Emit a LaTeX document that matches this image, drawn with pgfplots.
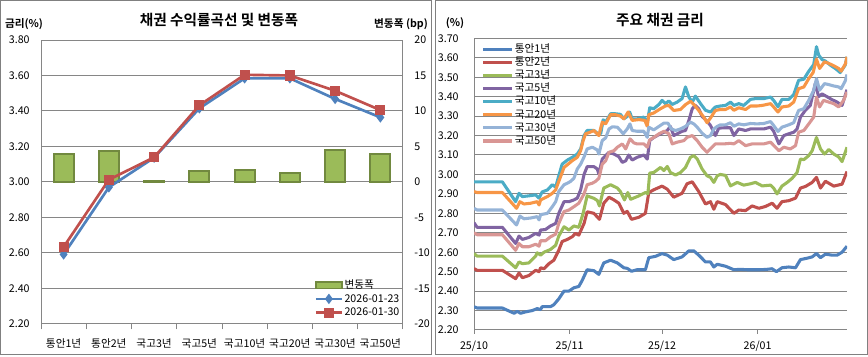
\documentclass[border=0pt]{standalone}
\usepackage{fontspec}
\setmainfont{Noto Sans CJK KR}[BoldFont={Noto Sans CJK KR Bold}]
\usepackage{pgfplots}
\pgfplotsset{compat=1.18}
\definecolor{c1}{HTML}{4F81BD}
\definecolor{c2}{HTML}{C0504D}
\definecolor{c3}{HTML}{9BBB59}
\definecolor{c4}{HTML}{8064A2}
\definecolor{c5}{HTML}{4BACC6}
\definecolor{c6}{HTML}{F79646}
\definecolor{c7}{HTML}{95B3D7}
\definecolor{c8}{HTML}{D99694}
\definecolor{barfill}{HTML}{9BBB59}
\definecolor{baredge}{HTML}{71893F}
\definecolor{gridc}{HTML}{868686}
\begin{document}
\begin{tikzpicture}
\begin{scope}[x=0.75pt,y=0.75pt]
\path[use as bounding box] (0,0) rectangle (868,355);
\draw[gray, line width=0.75pt] (0.5,0.5) rectangle (431.5,354.5);
\draw[gray, line width=0.75pt] (435.5,0.5) rectangle (867.5,354.5);
\node[font=\bfseries\fontsize{11}{13}\selectfont] at (219,335) {채권 수익률곡선 및 변동폭};
\node[font=\bfseries\fontsize{8}{10}\selectfont] at (24,331) {금리(\%)};
\node[font=\bfseries\fontsize{8}{10}\selectfont] at (401,331) {변동폭 (bp)};
\node[font=\bfseries\fontsize{11}{13}\selectfont] at (660,335) {주요 채권 금리};
\node[font=\bfseries\fontsize{8}{10}\selectfont] at (455,332) {(\%)};
\end{scope}

% ---------- left chart: bars (right axis) ----------
\begin{axis}[
  at={(30.75pt,23.25pt)}, anchor=south west,
  scale only axis, width=271.5pt, height=213pt,
  xmin=-0.5, xmax=7.5, ymin=-20, ymax=20,
  ytick={-20,-15,-10,-5,0,5,10,15,20},
  axis y line*=right, axis x line*=bottom,
  axis line style={gridc, line width=0.75pt},
  ymajorgrids, grid style={gridc, line width=0.75pt},
  xtick={-0.5,0.5,1.5,2.5,3.5,4.5,5.5,6.5,7.5}, xticklabels={},
  extra x ticks={0,1,2,3,4,5,6,7},
  extra x tick labels={통안1년,통안2년,국고3년,국고5년,국고10년,국고20년,국고30년,국고50년},
  extra x tick style={tick style={draw=none}, grid=none},
  tick align=outside, major tick length=4pt,
  ytick style={draw=none},
  xtick style={gridc, line width=0.75pt},
  ticklabel style={font=\fontsize{8}{9.6}\selectfont},
  yticklabel style={anchor=west, xshift=1pt},
  xticklabel style={yshift=-3.5pt},
  /pgf/number format/assume math mode=true,
  ybar, bar width=15pt,
]
\addplot[fill=barfill, draw=baredge, line width=1.5pt] coordinates {(0,3.9) (1,4.3) (2,0.2) (3,1.5) (4,1.7) (5,1.2) (6,4.5) (7,3.9)};
\end{axis}

% ---------- left chart: lines (left axis) ----------
\begin{axis}[
  at={(30.75pt,23.25pt)}, anchor=south west,
  scale only axis, width=271.5pt, height=213pt,
  xmin=-0.5, xmax=7.5, ymin=2.2, ymax=3.8,
  ytick={2.2,2.4,2.6,2.8,3.0,3.2,3.4,3.6,3.8},
  axis y line*=left, axis x line=none,
  axis line style={gridc, line width=0.75pt},
  ytick style={draw=none},
  ticklabel style={font=\fontsize{8}{9.6}\selectfont},
  yticklabel style={xshift=-5pt, /pgf/number format/fixed, /pgf/number format/fixed zerofill, /pgf/number format/precision=2},
  /pgf/number format/assume math mode=true,
  legend image code/.code={\draw[mark repeat=2,mark phase=2,#1] plot coordinates {(0pt,0pt) (9.75pt,0pt) (19.5pt,0pt)};},
  legend cell align=left,
  legend style={at={(0.755,0.015)}, anchor=south west, draw=none, fill=none,
    font=\fontsize{8}{9.6}\selectfont, inner sep=0pt, row sep=0pt,
    nodes={inner sep=1pt, text height=6.5pt, text depth=1.8pt}},
]
\addlegendimage{legend image code/.code={\draw[fill=barfill,draw=baredge,line width=1.2pt] (0pt,-2.5pt) rectangle (19.5pt,2.5pt);}}
\addlegendentry{변동폭}
\addplot[c1, line width=2pt, mark=diamond*, mark size=2.3pt] coordinates {(0,2.592) (1,2.970) (2,3.137) (3,3.415) (4,3.584) (5,3.584) (6,3.468) (7,3.364)};
\addlegendentry{2026-01-23}
\addplot[c2, line width=2pt, mark=square*, mark size=2.8pt] coordinates {(0,2.634) (1,3.013) (2,3.139) (3,3.432) (4,3.604) (5,3.600) (6,3.514) (7,3.405)};
\addlegendentry{2026-01-30}
\end{axis}

% ---------- right chart ----------
\begin{axis}[
  at={(355.5pt,18.75pt)}, anchor=south west,
  scale only axis, width=279.75pt, height=218.75pt,
  xmin=0, xmax=121, ymin=2.2, ymax=3.7,
  ytick={2.2,2.3,2.4,2.5,2.6,2.7,2.8,2.9,3.0,3.1,3.2,3.3,3.4,3.5,3.6,3.7},
  xtick={0,31,61,92}, xticklabels={25/10,25/11,25/12,26/01},
  axis y line*=left, axis x line*=bottom,
  axis line style={gridc, line width=0.75pt},
  ymajorgrids, grid style={gridc, line width=0.75pt},
  tick align=outside, major tick length=3pt,
  ytick style={draw=none}, xtick style={gridc, line width=0.75pt},
  ticklabel style={font=\fontsize{8}{9.6}\selectfont},
  yticklabel style={xshift=-5pt, /pgf/number format/fixed, /pgf/number format/fixed zerofill, /pgf/number format/precision=2},
  xticklabel style={yshift=-2pt},
  /pgf/number format/assume math mode=true,
  legend image code/.code={\draw[#1] (0pt,0pt) -- (21.75pt,0pt);},
  legend cell align=left,
  legend style={at={(0.02,0.985)}, anchor=north west, draw=none, fill=none,
    font=\fontsize{8}{9.6}\selectfont, inner sep=0pt, row sep=0pt,
    nodes={inner sep=0.8pt, text height=6.5pt, text depth=1.7pt}},
  every axis plot/.append style={line width=2.3pt, line join=round},
]
\addplot[c1] coordinates {(0,2.320) (1.0,2.313) (9.2,2.313) (13.0,2.286) (14.0,2.296) (15.1,2.286) (16.7,2.293) (18.9,2.300) (20.5,2.310) (21.6,2.305) (22.1,2.320) (24.8,2.320) (25.9,2.330) (27.5,2.360) (29.2,2.400) (30.8,2.400) (32.4,2.417) (34.0,2.424) (35.1,2.455) (36.7,2.510) (38.9,2.505) (40.5,2.486) (42.1,2.545) (44.3,2.559) (46.5,2.545) (48.6,2.520) (49.7,2.517) (51.1,2.502) (52.9,2.510) (55.6,2.510) (56.7,2.572) (58.9,2.579) (61.0,2.593) (62.7,2.585) (64.8,2.562) (67.5,2.576) (69.7,2.607) (71.3,2.607) (72.9,2.585) (75.1,2.550) (76.7,2.550) (77.8,2.524) (78.9,2.538) (81.6,2.528) (84.3,2.510) (86.4,2.512) (88.6,2.510) (90.8,2.510) (92.9,2.510) (95.1,2.512) (96.7,2.515) (98.1,2.500) (99.9,2.520) (102.1,2.524) (104.3,2.520) (105.9,2.562) (108.0,2.569) (109.7,2.576) (111.1,2.593) (112.4,2.572) (114.0,2.590) (116.1,2.585) (117.8,2.585) (119.4,2.600) (121.0,2.631)};
\addlegendentry{통안1년}
\addplot[c2] coordinates {(0,2.516) (1.0,2.507) (9.2,2.507) (13.5,2.464) (14.6,2.493) (15.7,2.469) (17.8,2.480) (20.0,2.507) (21.1,2.500) (21.6,2.520) (22.7,2.515) (24.3,2.541) (25.9,2.559) (27.5,2.610) (28.6,2.655) (30.3,2.666) (31.9,2.680) (32.9,2.697) (34.0,2.688) (35.7,2.748) (36.7,2.808) (38.9,2.800) (40.7,2.769) (42.1,2.852) (43.8,2.883) (45.4,2.869) (47.0,2.852) (48.6,2.800) (49.7,2.810) (51.1,2.769) (53.5,2.780) (55.6,2.800) (56.7,2.907) (58.3,2.921) (61.0,2.940) (62.7,2.924) (64.8,2.883) (67.5,2.903) (69.1,2.952) (70.8,2.962) (72.9,2.912) (75.1,2.848) (76.7,2.860) (77.8,2.821) (78.9,2.860) (81.6,2.845) (84.3,2.800) (85.9,2.817) (88.1,2.814) (90.2,2.838) (92.4,2.826) (94.5,2.835) (96.7,2.852) (98.3,2.826) (99.9,2.860) (102.1,2.865) (104.3,2.878) (105.9,2.930) (107.5,2.938) (109.7,2.959) (111.1,2.985) (112.4,2.930) (114.0,2.965) (116.7,2.940) (119.4,2.950) (121.0,3.015)};
\addlegendentry{통안2년}
\addplot[c3] coordinates {(0,2.593) (1.0,2.580) (9.2,2.580) (13.5,2.520) (14.6,2.550) (15.7,2.541) (17.8,2.545) (20.0,2.580) (20.5,2.597) (21.6,2.585) (22.7,2.600) (24.8,2.614) (26.5,2.636) (27.5,2.683) (29.2,2.731) (30.8,2.714) (32.4,2.735) (34.0,2.728) (35.4,2.800) (36.7,2.890) (38.9,2.877) (40.0,2.866) (40.7,2.838) (42.1,2.930) (44.3,2.947) (46.5,2.930) (47.5,2.912) (48.8,2.869) (49.9,2.907) (50.8,2.872) (53.5,2.890) (55.6,2.907) (56.4,2.900) (57.0,3.007) (58.3,3.010) (60.5,3.036) (61.6,3.020) (62.7,3.041) (63.7,3.010) (65.4,2.997) (67.0,3.010) (68.6,3.036) (70.2,3.088) (71.3,3.097) (72.4,3.080) (74.0,3.028) (75.6,2.993) (76.7,2.985) (77.8,2.959) (78.9,2.993) (79.9,3.000) (81.6,2.995) (83.2,2.941) (85.4,2.959) (87.5,2.945) (89.7,2.952) (91.3,2.959) (93.5,2.941) (96.2,2.945) (97.2,2.930) (98.3,2.900) (99.9,2.940) (101.6,2.959) (103.2,2.980) (104.8,3.010) (105.9,3.079) (107.0,3.076) (108.6,3.097) (109.7,3.122) (111.1,3.190) (112.4,3.131) (113.7,3.105) (115.1,3.128) (116.7,3.105) (118.3,3.090) (119.4,3.066) (121.0,3.140)};
\addlegendentry{국고3년}
\addplot[c4] coordinates {(0,2.752) (1.0,2.728) (9.2,2.728) (13.5,2.645) (14.6,2.683) (15.7,2.666) (17.8,2.676) (20.0,2.697) (21.1,2.688) (21.6,2.714) (23.2,2.717) (24.8,2.735) (26.5,2.748) (27.5,2.800) (29.2,2.860) (30.8,2.860) (32.4,2.869) (33.5,2.878) (34.6,2.921) (35.7,3.000) (36.7,3.040) (38.9,3.040) (40.0,3.028) (40.5,3.002) (41.6,3.079) (43.8,3.114) (45.4,3.105) (47.0,3.091) (48.1,3.062) (49.2,3.070) (50.2,3.100) (51.3,3.074) (52.9,3.088) (55.1,3.100) (56.2,3.079) (57.0,3.174) (58.3,3.190) (60.0,3.205) (61.6,3.217) (62.7,3.226) (63.7,3.247) (64.8,3.200) (65.9,3.209) (67.5,3.222) (68.6,3.226) (69.7,3.278) (70.8,3.338) (71.8,3.355) (72.9,3.338) (74.0,3.298) (75.6,3.274) (76.7,3.252) (77.8,3.217) (78.3,3.200) (79.4,3.238) (81.0,3.240) (83.2,3.240) (84.3,3.200) (85.9,3.234) (88.1,3.226) (89.7,3.234) (94.0,3.234) (96.2,3.243) (97.2,3.222) (98.9,3.157) (100.5,3.200) (102.1,3.209) (103.7,3.217) (104.8,3.234) (105.9,3.295) (107.5,3.330) (109.1,3.355) (110.7,3.467) (111.8,3.400) (112.9,3.414) (114.5,3.400) (116.1,3.385) (117.8,3.372) (119.4,3.355) (121.0,3.436)};
\addlegendentry{국고5년}
\addplot[c5] coordinates {(0,2.962) (1.0,2.962) (9.2,2.962) (13.5,2.860) (14.6,2.903) (15.7,2.886) (17.8,2.890) (20.0,2.895) (21.1,2.878) (22.1,2.910) (23.8,2.920) (25.4,2.947) (26.5,2.935) (27.5,2.993) (28.6,3.053) (30.3,3.074) (31.9,3.088) (33.5,3.105) (34.6,3.131) (35.7,3.200) (36.7,3.226) (38.9,3.226) (40.0,3.212) (41.1,3.209) (41.9,3.281) (42.7,3.269) (44.3,3.312) (45.9,3.312) (47.5,3.309) (48.6,3.286) (49.7,3.298) (50.5,3.321) (51.3,3.286) (52.9,3.286) (55.1,3.295) (56.2,3.264) (57.0,3.343) (58.3,3.338) (60.0,3.360) (61.0,3.381) (62.1,3.364) (63.2,3.378) (64.3,3.360) (65.9,3.372) (67.5,3.390) (68.6,3.450) (69.7,3.398) (70.8,3.372) (71.8,3.403) (73.5,3.364) (75.1,3.330) (76.7,3.321) (78.3,3.347) (79.9,3.352) (81.6,3.355) (83.2,3.372) (84.3,3.355) (85.9,3.364) (87.5,3.355) (89.7,3.386) (91.3,3.390) (94.0,3.390) (96.2,3.398) (97.2,3.381) (98.6,3.348) (99.9,3.386) (102.1,3.386) (103.7,3.410) (105.3,3.484) (107.0,3.490) (108.6,3.531) (110.2,3.565) (111.1,3.657) (111.8,3.614) (112.9,3.591) (114.0,3.583) (115.6,3.562) (117.2,3.545) (118.8,3.524) (120.4,3.562) (121.0,3.605)};
\addlegendentry{국고10년}
\addplot[c6] coordinates {(0,2.912) (1.0,2.907) (9.2,2.907) (13.8,2.826) (14.9,2.860) (16.2,2.848) (18.4,2.852) (20.5,2.860) (21.1,2.843) (21.6,2.869) (23.8,2.886) (25.4,2.903) (26.5,2.921) (27.5,2.964) (28.6,3.010) (29.2,3.036) (30.3,3.050) (31.9,3.071) (33.5,3.088) (34.6,3.122) (35.4,3.174) (36.2,3.209) (37.3,3.215) (38.9,3.226) (40.5,3.200) (41.6,3.269) (42.7,3.260) (44.3,3.307) (45.9,3.307) (47.5,3.300) (48.6,3.286) (50.0,3.321) (51.3,3.278) (53.5,3.282) (55.4,3.278) (56.2,3.248) (56.7,3.307) (58.3,3.316) (60.5,3.338) (62.1,3.352) (63.2,3.355) (64.8,3.329) (67.0,3.334) (68.6,3.359) (70.2,3.376) (71.3,3.360) (72.9,3.329) (74.5,3.295) (75.6,3.266) (76.7,3.290) (78.3,3.329) (79.9,3.334) (81.6,3.334) (83.2,3.347) (84.3,3.330) (85.9,3.343) (88.1,3.334) (89.7,3.352) (91.8,3.352) (93.5,3.355) (96.2,3.364) (97.2,3.347) (98.6,3.321) (99.9,3.347) (102.1,3.352) (103.7,3.372) (105.3,3.441) (107.0,3.450) (108.6,3.493) (110.0,3.524) (111.1,3.593) (112.1,3.545) (113.7,3.579) (115.1,3.571) (116.7,3.559) (118.3,3.545) (119.1,3.531) (120.5,3.569) (121.0,3.605)};
\addlegendentry{국고20년}
\addplot[c7] coordinates {(0,2.826) (1.0,2.817) (9.2,2.817) (13.8,2.740) (14.9,2.786) (16.2,2.772) (18.4,2.776) (20.5,2.783) (21.1,2.766) (21.6,2.793) (23.8,2.800) (25.4,2.834) (26.5,2.860) (27.5,2.912) (29.2,2.947) (30.3,2.955) (31.3,2.964) (32.4,2.980) (33.5,3.028) (34.6,3.053) (35.7,3.090) (36.7,3.131) (38.4,3.140) (40.0,3.126) (40.5,3.105) (41.6,3.174) (42.7,3.188) (43.8,3.234) (44.9,3.245) (46.5,3.243) (47.5,3.226) (48.4,3.209) (49.7,3.234) (50.6,3.260) (51.3,3.226) (52.9,3.222) (55.1,3.222) (56.2,3.191) (56.7,3.243) (58.3,3.229) (60.0,3.247) (61.6,3.264) (62.9,3.264) (64.0,3.234) (65.4,3.226) (67.0,3.234) (68.6,3.247) (70.2,3.269) (71.3,3.260) (72.4,3.243) (74.0,3.212) (75.6,3.191) (76.7,3.200) (77.8,3.234) (78.9,3.247) (79.9,3.255) (81.6,3.255) (83.2,3.266) (84.3,3.248) (85.9,3.260) (87.5,3.255) (89.7,3.262) (91.8,3.260) (94.0,3.262) (96.2,3.272) (97.2,3.252) (98.6,3.221) (99.9,3.243) (102.1,3.255) (103.7,3.266) (105.3,3.329) (107.0,3.338) (108.6,3.381) (110.2,3.433) (111.1,3.493) (112.1,3.433) (113.7,3.467) (115.1,3.462) (116.7,3.455) (118.3,3.450) (119.1,3.441) (120.4,3.480) (121.0,3.514)};
\addlegendentry{국고30년}
\addplot[c8] coordinates {(0,2.700) (1.0,2.690) (9.2,2.690) (13.5,2.610) (14.6,2.645) (15.7,2.628) (17.8,2.628) (20.0,2.641) (21.1,2.631) (21.6,2.659) (23.2,2.659) (24.8,2.679) (26.5,2.693) (27.5,2.748) (29.2,2.809) (30.8,2.817) (32.4,2.834) (34.0,2.852) (35.7,2.900) (36.7,2.947) (38.4,2.955) (39.4,2.964) (40.5,2.980) (41.6,3.053) (42.7,3.070) (43.8,3.114) (45.4,3.122) (46.5,3.140) (48.1,3.157) (49.2,3.131) (50.6,3.183) (51.9,3.162) (52.9,3.157) (55.1,3.157) (56.2,3.140) (57.0,3.178) (58.3,3.190) (60.0,3.209) (61.6,3.222) (63.2,3.209) (64.3,3.157) (65.9,3.166) (68.1,3.174) (69.1,3.191) (70.8,3.200) (72.4,3.174) (74.0,3.140) (75.6,3.114) (77.2,3.140) (78.3,3.157) (81.0,3.157) (83.2,3.160) (84.3,3.157) (85.9,3.174) (88.1,3.148) (90.2,3.157) (91.8,3.157) (94.0,3.157) (96.2,3.166) (97.8,3.140) (98.9,3.122) (100.5,3.140) (102.6,3.131) (104.3,3.148) (105.3,3.217) (107.0,3.226) (108.6,3.260) (110.2,3.295) (111.1,3.398) (112.1,3.347) (113.4,3.381) (115.1,3.372) (116.7,3.364) (118.3,3.347) (119.9,3.381) (121.0,3.424)};
\addlegendentry{국고50년}
\end{axis}
\end{tikzpicture}
\end{document}
